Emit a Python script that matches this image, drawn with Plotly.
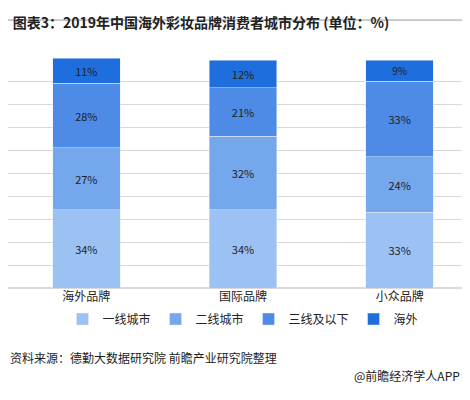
import plotly.graph_objects as go

categories = ["海外品牌", "国际品牌", "小众品牌"]
series = ["一线城市", "二线城市", "三线及以下", "海外"]
values = {
    "一线城市": [34, 34, 33],
    "二线城市": [27, 32, 24],
    "三线及以下": [28, 21, 33],
    "海外": [11, 12, 9],
}
colors = ["#9cc2f4", "#74a7ec", "#4d8be6", "#1e6fdd"]

fig = go.Figure()
for name, color in zip(series, colors):
    fig.add_trace(go.Bar(
        x=categories, y=values[name], name=name, marker_color=color,
        text=[f"{v}%" for v in values[name]], textposition="inside",
        insidetextanchor="middle", textfont=dict(color="#222", size=11),
        width=0.43, hoverinfo="skip",
    ))

fig.update_layout(
    barmode="stack", width=470, height=400,
    plot_bgcolor="white", paper_bgcolor="white",
    font=dict(family="Noto Sans CJK SC", size=12, color="#222"),
    margin=dict(l=0, r=0, t=50, b=120),
    title=dict(text="<b>图表3：2019年中国海外彩妆品牌消费者城市分布 (单位：%)</b>",
               x=0.01, y=0.975, xanchor="left", font=dict(size=14, color="#222")),
    legend=dict(orientation="h", x=0.5, xanchor="center", y=-0.135, yanchor="middle",
                font=dict(size=12), traceorder="normal", itemwidth=30),
    showlegend=True,
    xaxis=dict(showline=False, ticks="", tickfont=dict(size=12)),
    yaxis=dict(range=[0, 100], dtick=10, showticklabels=False,
               gridcolor="#d9d9d9", zeroline=True, zerolinecolor="#d9d9d9"),
)
fig.add_shape(type="line", xref="paper", yref="paper", x0=0, x1=1, y0=1.165, y1=1.165,
              line=dict(color="#999", width=1))
fig.add_annotation(text="资料来源：德勤大数据研究院 前瞻产业研究院整理", xref="paper", yref="paper",
                   x=0.0, y=-0.3, xanchor="left", yanchor="middle", showarrow=False,
                   font=dict(size=12))
fig.add_annotation(text="@前瞻经济学人APP", xref="paper", yref="paper",
                   x=0.965, y=-0.38, xanchor="right", yanchor="middle", showarrow=False,
                   font=dict(size=12))
fig.write_html("out.html")
